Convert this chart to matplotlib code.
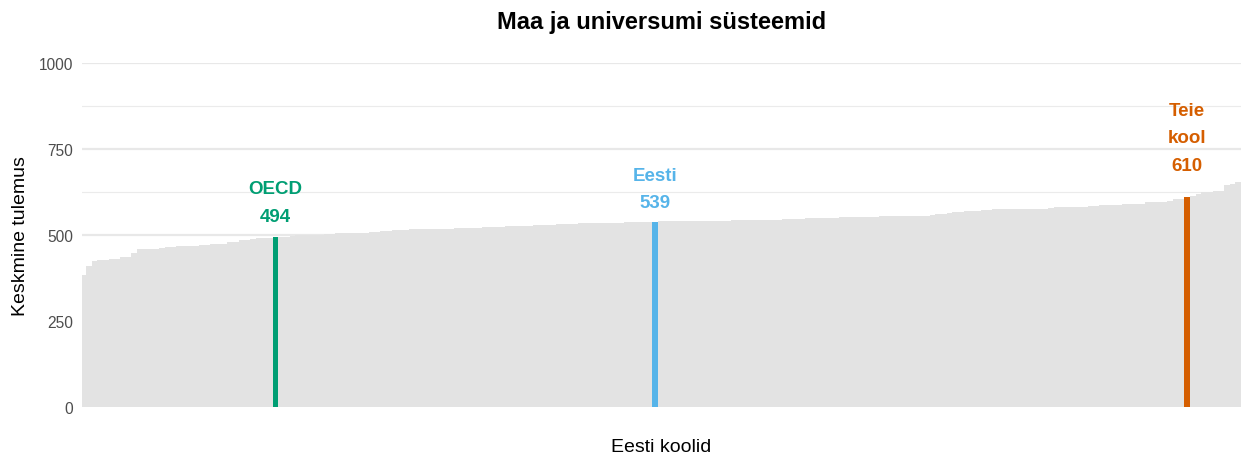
import matplotlib
matplotlib.use("Agg")
import matplotlib.pyplot as plt
import numpy as np

plt.rcParams['font.family'] = ['Liberation Sans', 'DejaVu Sans']

# ---------------- data ----------------
title = "Maa ja universumi süsteemid"
x_label = "Eesti koolid"
y_label = "Keskmine tulemus"
y_ticks = [0, 250, 500, 750, 1000]

# average scores of Estonian schools (sorted)
school_scores = [
    384, 410, 425, 426, 428, 431, 431, 436, 436, 448,
    459, 459, 459, 459, 462, 466, 466, 468, 468, 468,
    468, 471, 471, 474, 474, 474, 480, 480, 485, 485,
    489, 490, 491, 492, 495, 495, 496, 500, 500, 500,
    501, 501, 502, 504, 505, 505, 506, 506, 507, 507,
    508, 509, 513, 513, 514, 514, 515, 517, 517, 517,
    517, 518, 518, 518, 518, 520, 520, 520, 520, 521,
    524, 524, 524, 524, 525, 527, 527, 527, 527, 528,
    528, 528, 529, 531, 531, 531, 532, 534, 534, 534,
    534, 535, 535, 535, 536, 538, 538, 538, 538, 538,
    540, 540, 540, 540, 540, 541, 541, 541, 541, 542,
    542, 542, 542, 543, 543, 544, 544, 544, 544, 545,
    545, 545, 547, 547, 547, 547, 548, 548, 550, 550,
    550, 550, 551, 551, 551, 552, 553, 553, 553, 554,
    554, 556, 556, 556, 556, 556, 556, 556, 557, 562,
    562, 565, 566, 568, 569, 570, 570, 573, 573, 576,
    576, 576, 576, 576, 577, 577, 577, 577, 577, 579,
    580, 580, 580, 582, 582, 582, 583, 583, 586, 586,
    586, 587, 589, 589, 589, 590, 596, 596, 596, 597,
    600, 605, 606, 614, 620, 624, 626, 627, 627, 646,
    647, 653,
]

highlight_labels = ["OECD", "Eesti", "Teie\nkool"]
highlight_values = [494, 539, 610]
highlight_colors = ["#009E73", "#56B4E9", "#D55E00"]
label_offsets_pt = [9, 7.5, 17]  # vertical text offsets (style)

# ---------------- build combined sorted list ----------------
entries = [(v, None) for v in school_scores] + \
          [(v, k) for k, v in enumerate(highlight_values)]
entries.sort(key=lambda e: (e[0], 0 if e[1] is None else 1))
values = [e[0] for e in entries]
colors = ["#E3E3E3" if e[1] is None else highlight_colors[e[1]] for e in entries]
positions = np.arange(len(values))

# ---------------- figure ----------------
W, H = 1241, 456
fig = plt.figure(figsize=(W / 100, H / 100), dpi=100)
ax = fig.add_axes([82 / W, 48 / H, 1159 / W, 344 / H])

ax.bar(positions, values, width=1.0, color=colors, linewidth=0, zorder=2)

for (k, e) in [(e[1], i) for i, e in enumerate(entries) if e[1] is not None]:
    ax.annotate(f"{highlight_labels[k]}\n{highlight_values[k]}",
                xy=(e, highlight_values[k]),
                xytext=(0, label_offsets_pt[k]), textcoords="offset points",
                ha="center", va="bottom", fontsize=13.5, fontweight="bold",
                color=highlight_colors[k], linespacing=1.8, zorder=5)

ax.set_xlim(-0.18, len(values) - 0.5)
ax.set_ylim(0, 1000)
ax.set_yticks(y_ticks)
ax.set_yticks([125, 375, 625, 875], minor=True)
ax.set_xticks([])
ax.grid(axis="y", which="major", color="#E8E8E8", linewidth=1.6, zorder=0)
ax.grid(axis="y", which="minor", color="#EBEBEB", linewidth=0.8, zorder=0)
ax.set_axisbelow(True)
for s in ax.spines.values():
    s.set_visible(False)
ax.tick_params(axis="y", which="both", length=0, pad=6.5,
               labelsize=11.2, labelcolor="#4D4D4D")

ax.set_xlabel(x_label, fontsize=14, color="black")
ax.xaxis.set_label_coords(0.5, -(448 - 408) / 344)
ax.xaxis.label.set_va("center")
ax.set_ylabel(y_label, fontsize=14, color="black")
ax.yaxis.set_label_coords(-(82 - 21) / 1159, 0.5)
ax.yaxis.label.set_va("center")

fig.text(661.5 / W, 1 - 23 / H, title, ha="center", va="center",
         fontsize=17, fontweight="bold")

fig.savefig("out.png", dpi=100)
